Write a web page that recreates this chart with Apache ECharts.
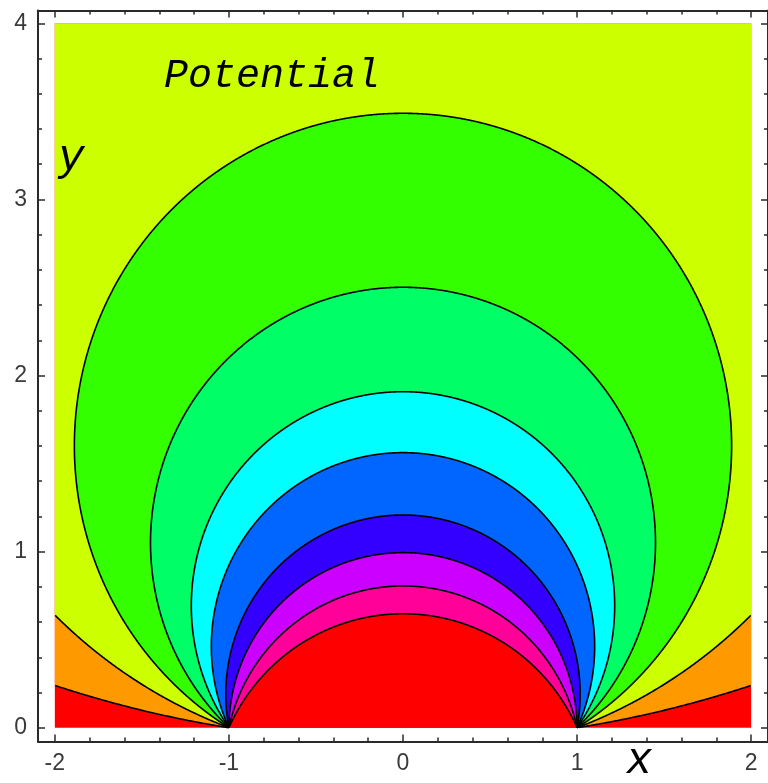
<!DOCTYPE html>
<html>
<head>
<meta charset="utf-8">
<script src="https://cdn.jsdelivr.net/npm/echarts@6/dist/echarts.min.js"></script>
<style>
html,body{margin:0;padding:0;background:#fff;}
#chart{width:768px;height:783px;}
</style>
</head>
<body>
<div id="chart"></div>
<script>
// Contours: each one is an arc through (-1,0) and (1,0); one further point
const contourX = [2, 2, 0, 0, 0, 0, 0, 0, 0, 0];
const contourY = [0.24, 0.64, 3.489, 2.501, 1.908, 1.562, 1.208, 0.994, 0.805, 0.647];
// Band colours, from the outermost (lowest potential) band inwards
const bandColors = ['#ff0000', '#ff9900', '#ccff00', '#33ff00', '#00ff66', '#00ffff',
                    '#0066ff', '#3300ff', '#cc00ff', '#ff0099', '#ff0000'];
const xTickLabels = [-2, -1, 0, 1, 2];
const yTickLabels = [0, 1, 2, 3, 4];
const plotBox = {xmin: -2, xmax: 2, ymin: 0, ymax: 4};

const XMIN = -2.0967, XMAX = 2.0967, YMIN = -0.0784, YMAX = 4.0727;

const xMinor = [], yMinor = [];
for (let i = -10; i <= 10; i++) xMinor.push(Math.round(i * 0.2 * 10) / 10);
for (let i = 0; i <= 20; i++) yMinor.push(Math.round(i * 0.2 * 10) / 10);

function circleOf(i) {
  const x = contourX[i], y = contourY[i];
  const k = (x * x + y * y - 1) / (2 * y);
  return {k: k, r: Math.sqrt(1 + k * k)};
}
function arcPoints(i, n) {
  const c = circleOf(i);
  const a0 = Math.atan2(-c.k, 1), a1 = Math.PI - a0;
  const pts = [];
  for (let j = 0; j <= n; j++) {
    const a = a0 + (a1 - a0) * j / n;
    pts.push([c.r * Math.cos(a), c.k + c.r * Math.sin(a)]);
  }
  return pts;
}
function clampPt(p) {
  return [Math.min(plotBox.xmax, Math.max(plotBox.xmin, p[0])),
          Math.min(plotBox.ymax, Math.max(plotBox.ymin, p[1]))];
}
function inBox(p) {
  return p[0] >= plotBox.xmin && p[0] <= plotBox.xmax && p[1] >= plotBox.ymin && p[1] <= plotBox.ymax;
}

const chart = echarts.init(document.getElementById('chart'), null, {renderer: 'canvas'});
const frameLine = {color: '#2a2a2a', width: 2};
const tickLine = {color: '#2a2a2a', width: 1.5};
const labelStyle = {fontFamily: 'Liberation Sans', fontSize: 23, color: '#3a3a3a'};

function mkAxis(pos, ticks, labels, len, showLine, min, max) {
  return {
    type: 'value', position: pos, min: min, max: max,
    axisLine: {show: showLine, onZero: false, lineStyle: frameLine},
    axisTick: {show: true, inside: true, length: len, customValues: ticks, lineStyle: tickLine},
    axisLabel: labels ? Object.assign({show: true, customValues: labels, margin: 11,
      formatter: v => String(v)}, labelStyle) : {show: false},
    splitLine: {show: false}
  };
}

const option = {
  animation: false,
  grid: {left: 38, top: 10.5, width: 737, height: 731, containLabel: false},
  xAxis: [
    mkAxis('bottom', xTickLabels, xTickLabels, 7, true, XMIN, XMAX),
    mkAxis('top', xTickLabels, null, 7, true, XMIN, XMAX),
    mkAxis('bottom', xMinor, null, 4, false, XMIN, XMAX),
    mkAxis('top', xMinor, null, 4, false, XMIN, XMAX)
  ],
  yAxis: [
    mkAxis('left', yTickLabels, yTickLabels, 7, true, YMIN, YMAX),
    mkAxis('right', yTickLabels, null, 7, true, YMIN, YMAX),
    mkAxis('left', yMinor, null, 4, false, YMIN, YMAX),
    mkAxis('right', yMinor, null, 4, false, YMIN, YMAX)
  ],
  series: [
    {
      type: 'custom', name: 'bands', xAxisIndex: 0, yAxisIndex: 0,
      data: bandColors.map((c, i) => [i]),
      renderItem: function (params, api) {
        const idx = api.value(0);
        let pts;
        if (idx === 0) {
          pts = [[plotBox.xmin, plotBox.ymin], [plotBox.xmax, plotBox.ymin],
                 [plotBox.xmax, plotBox.ymax], [plotBox.xmin, plotBox.ymax]];
        } else {
          pts = arcPoints(idx - 1, 1500).map(clampPt);
        }
        return {
          type: 'polygon',
          shape: {points: pts.map(p => api.coord(p))},
          style: {fill: bandColors[idx], stroke: null}
        };
      }
    },
    {
      type: 'custom', name: 'contours', xAxisIndex: 0, yAxisIndex: 0,
      data: contourY.map((v, i) => [i]),
      renderItem: function (params, api) {
        const idx = api.value(0);
        const pts = arcPoints(idx, 3000);
        const pieces = [];
        let cur = [];
        pts.forEach(p => {
          if (inBox(p)) { cur.push(api.coord(p)); }
          else { if (cur.length > 1) pieces.push(cur); cur = []; }
        });
        if (cur.length > 1) pieces.push(cur);
        return {
          type: 'group',
          children: pieces.map(pc => ({
            type: 'polyline',
            shape: {points: pc},
            style: {stroke: '#000', lineWidth: 1.6, fill: null}
          }))
        };
      }
    }
  ],
  graphic: [
    {type: 'text', left: 164, top: 56, z: 100,
     style: {text: 'Potential', fontFamily: 'Liberation Mono', fontStyle: 'italic', fontSize: 40, fill: '#000'}},
    {type: 'text', left: 58, top: 136, z: 100,
     style: {text: 'y', fontFamily: 'Liberation Mono', fontStyle: 'italic', fontSize: 44, fill: '#000'}},
    {type: 'text', left: 626, top: 739, z: 100,
     style: {text: 'x', fontFamily: 'Liberation Mono', fontStyle: 'italic', fontSize: 44, fill: '#000'}}
  ]
};
chart.setOption(option);
</script>
</body>
</html>
